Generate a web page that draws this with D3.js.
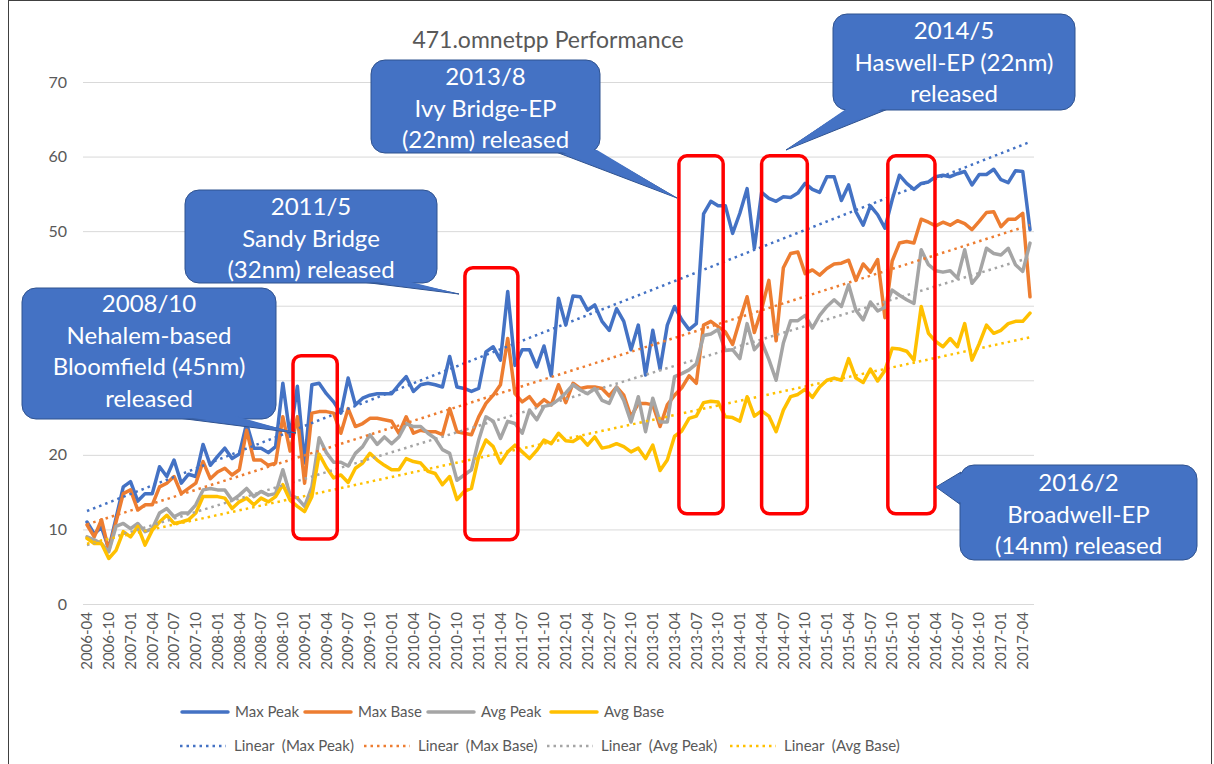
<!DOCTYPE html>
<html>
<head>
<meta charset="utf-8">
<script src="https://cdn.jsdelivr.net/npm/d3@7/dist/d3.min.js"></script>
<style>
  body { margin: 0; background: #fff; }
  text { font-family: Lato, "Open Sans", sans-serif; }
</style>
</head>
<body>
<svg id="chart" width="1214" height="764"></svg>
<script>
// x axis labels, one every 3rd category
var tickLabels = ["2006-04","2006-10","2007-01","2007-04","2007-07","2007-10","2008-01","2008-04","2008-07","2008-10",
  "2009-01","2009-04","2009-07","2009-10","2010-01","2010-04","2010-07","2010-10","2011-01","2011-04",
  "2011-07","2011-10","2012-01","2012-04","2012-07","2012-10","2013-01","2013-04","2013-07","2013-10",
  "2014-01","2014-04","2014-07","2014-10","2015-01","2015-04","2015-07","2015-10","2016-01","2016-04",
  "2016-07","2016-10","2017-01","2017-04"];

var maxPeak = [11.0,9.4,10.3,7.4,11.5,15.7,16.4,13.8,14.8,14.8,
  18.4,17.1,19.3,16.2,17.4,17.1,21.4,18.6,19.8,20.9,
  19.5,20.1,24.2,20.9,20.9,20.3,21.1,29.6,22.5,29.2,
  18.9,29.4,29.6,28.2,27.1,25.6,30.3,26.7,27.6,28.0,
  28.2,28.2,28.2,29.4,30.5,28.5,29.4,29.6,29.4,29.1,
  33.2,29.1,28.9,28.5,28.9,33.8,34.5,32.7,41.9,32.0,
  34.1,34.1,31.8,34.6,30.6,41.0,37.4,41.3,41.2,39.4,
  40.1,37.9,36.7,39.6,37.9,34.1,37.4,30.7,36.7,31.5,
  37.4,39.9,38.1,36.8,37.6,52.3,54.0,53.4,53.4,49.7,
  52.4,55.7,47.7,55.2,54.4,54.0,54.6,54.5,55.1,56.4,
  55.6,55.2,57.3,57.3,54.1,56.2,52.6,50.8,53.4,52.2,
  50.4,54.2,57.5,56.4,55.6,56.4,56.6,57.3,57.5,57.3,
  57.7,58.0,56.2,57.6,57.6,58.3,56.9,56.5,58.1,58.0,
  50.2];

var maxBase = [10.6,9.0,11.3,7.2,11.0,14.8,15.3,12.6,13.3,13.3,
  15.7,16.2,17.1,14.8,15.5,16.2,19.1,16.8,17.7,18.2,
  17.3,18.0,23.3,19.3,19.3,18.6,18.9,25.1,20.5,25.1,
  16.2,25.6,25.8,25.8,25.6,22.9,26.2,23.8,24.2,24.9,
  24.9,24.7,24.5,22.9,25.1,22.9,23.3,23.1,23.1,22.7,
  26.2,23.1,22.9,22.7,25.1,26.9,28.0,29.4,35.6,28.2,
  27.1,27.8,26.5,27.4,26.7,29.4,27.0,29.6,28.9,29.1,
  29.1,28.9,27.9,29.1,28.0,25.1,26.9,26.9,26.7,23.8,
  26.7,28.0,29.0,30.6,29.6,37.4,37.9,37.2,36.5,34.8,
  38.1,41.2,36.4,39.5,43.4,35.3,45.1,47.0,47.2,44.3,
  44.8,44.1,45.0,45.6,45.7,46.1,43.4,45.6,44.5,46.2,
  38.4,46.0,48.4,48.6,48.4,51.6,51.2,50.7,51.2,50.8,
  51.4,51.0,50.2,51.3,52.5,52.6,50.6,51.6,51.6,52.4,
  41.2];

var avgPeak = [9.0,8.6,8.1,7.0,10.4,10.8,10.1,10.8,9.7,10.1,
  12.2,12.8,11.7,12.2,12.2,13.3,15.3,15.5,15.3,15.3,
  13.9,14.6,15.5,14.4,15.1,14.6,14.8,18.0,14.6,14.2,
  13.1,15.7,22.3,20.3,19.0,19.0,18.5,20.2,21.1,22.7,
  21.4,22.4,21.5,22.4,24.2,23.8,23.8,22.9,22.2,20.7,
  20.2,16.6,17.3,18.0,22.0,25.1,24.5,22.2,24.5,24.2,
  22.9,26.0,24.7,26.5,26.7,27.4,28.3,29.4,28.7,28.2,
  28.9,27.3,26.9,29.1,27.3,24.4,27.8,23.1,27.6,24.4,
  24.4,30.5,30.9,31.4,32.2,36.0,36.2,36.8,34.0,34.1,
  32.9,37.6,34.1,35.2,32.8,30.0,35.0,38.0,38.0,38.7,
  37.0,38.7,39.9,40.8,39.9,42.8,39.4,38.1,40.5,39.3,
  39.8,42.1,41.4,40.8,40.3,47.5,45.5,44.7,44.5,44.7,
  43.7,47.5,43.0,44.2,47.7,47.0,46.8,47.7,45.5,44.6,
  48.4];

var avgBase = [8.8,8.1,8.1,6.1,7.2,9.7,9.0,10.4,7.9,9.9,
  11.0,11.9,10.8,11.0,11.3,12.2,14.4,14.4,14.4,14.2,
  12.8,13.7,14.2,13.3,14.2,13.7,14.4,16.0,13.9,13.1,
  12.4,14.4,20.1,18.3,16.9,17.3,16.3,18.2,18.9,20.2,
  19.3,18.6,18.0,18.0,19.5,19.1,18.9,17.8,17.5,16.0,
  17.1,14.0,15.1,15.5,19.8,22.0,21.1,18.9,20.4,21.3,
  20.4,19.5,20.6,22.0,21.5,22.9,21.9,21.8,22.4,21.3,
  22.4,20.9,21.1,21.5,21.1,20.4,20.9,19.5,21.3,17.9,
  19.3,22.5,23.2,24.9,25.2,27.0,27.2,27.1,25.1,25.0,
  24.5,27.8,25.2,25.9,25.2,23.1,26.0,27.8,28.1,28.8,
  27.7,29.1,30.0,30.3,30.0,32.9,30.3,29.7,31.5,29.9,
  31.3,34.3,34.2,33.9,32.7,39.9,36.3,35.2,34.5,35.6,
  34.5,37.6,32.7,34.9,37.4,36.3,36.7,37.6,37.9,37.9,
  39.0];

var seriesNames = ["Max Peak", "Max Base", "Avg Peak", "Avg Base"];
var yTicks = [0, 10, 20, 30, 40, 50, 60, 70];

// highlighted release windows: [first category, last category, bottom value, top value]
var releaseWindows = [[28.4, 34.5, 8.7, 33.3], [52.1, 59.4, 8.6, 45.1], [81.6, 87.7, 12.1, 60.1],
  [93.0, 99.3, 12.1, 60.1], [110.4, 116.9, 12.1, 60.1]];

var calloutTexts = [
  ["2008/10", "Nehalem-based", "Bloomfield (45nm)", "released"],
  ["2011/5", "Sandy Bridge", "(32nm) released"],
  ["2013/8", "Ivy Bridge-EP", "(22nm) released"],
  ["2014/5", "Haswell-EP (22nm)", "released"],
  ["2016/2", "Broadwell-EP", "(14nm) released"]
];

(function() {
  var colors = ["#4472C4", "#ED7D31", "#A5A5A5", "#FFC000"];
  var allSeries = [maxPeak, maxBase, avgPeak, avgBase];
  var n = maxPeak.length;
  var plot = { left: 83, right: 1034, top: 82, bottom: 604 };

  var svg = d3.select("#chart");
  svg.append("rect").attr("x", 8.5).attr("y", 0.5).attr("width", 1203).attr("height", 780)
     .style("fill", "#fff").style("stroke", "#404040").style("stroke-width", 1);

  var x = d3.scaleLinear().domain([0, n - 1]).range([87, 1030]);
  var y = d3.scaleLinear().domain([0, 70]).range([plot.bottom, plot.top]);

  /*Gridlines*/
  svg.selectAll(".grid").data(yTicks).enter().append("line")
     .attr("x1", plot.left).attr("x2", plot.right)
     .attr("y1", function(d){ return y(d) + 0.5; }).attr("y2", function(d){ return y(d) + 0.5; })
     .style("stroke", "#D9D9D9").style("stroke-width", 1);

  svg.selectAll(".ylab").data(yTicks).enter().append("text")
     .attr("x", 67).attr("y", function(d){ return y(d); }).attr("dy", "0.35em")
     .style("text-anchor", "end").style("font-size", "16px").style("fill", "#595959")
     .text(function(d){ return d; });

  svg.selectAll(".xlab").data(tickLabels).enter().append("text")
     .attr("transform", function(d, i){ return "translate(" + x(i * 3) + ",612) rotate(-90)"; })
     .attr("dy", "0.35em")
     .style("text-anchor", "end").style("font-size", "15px").style("fill", "#595959")
     .text(function(d){ return d; });

  /*Title*/
  svg.append("text").attr("x", 548).attr("y", 48).style("text-anchor", "middle")
     .style("font-size", "23px").style("fill", "#595959").text("471.omnetpp Performance");

  /*Series*/
  var line = d3.line().x(function(d, i){ return x(i); }).y(function(d){ return y(d); });
  allSeries.forEach(function(vals, s){
    svg.append("path").datum(vals).attr("d", line)
       .style("fill", "none").style("stroke", colors[s]).style("stroke-width", 3.5)
       .style("stroke-linejoin", "round").style("stroke-linecap", "round");
  });

  /*Linear trendlines*/
  allSeries.forEach(function(vals, s){
    var xs = d3.range(n);
    var mx = d3.mean(xs), my = d3.mean(vals);
    var b = d3.sum(xs, function(k){ return (k - mx) * (vals[k] - my); }) / d3.sum(xs, function(k){ return (k - mx) * (k - mx); });
    var a = my - b * mx;
    svg.append("line")
       .attr("x1", x(0)).attr("y1", y(a)).attr("x2", x(n - 1)).attr("y2", y(a + b * (n - 1)))
       .style("stroke", colors[s]).style("stroke-width", 2.5).style("stroke-dasharray", "2.5,4");
  });

  /*Red boxes*/
  svg.selectAll(".win").data(releaseWindows).enter().append("rect")
     .attr("x", function(d){ return x(d[0]); }).attr("y", function(d){ return y(d[3]); })
     .attr("width", function(d){ return x(d[1]) - x(d[0]); })
     .attr("height", function(d){ return y(d[2]) - y(d[3]); })
     .attr("rx", 8).style("fill", "none").style("stroke", "#FF0000").style("stroke-width", 3.5);

  /*Callouts*/
  var boxes = [
    { x: 22, y: 288, w: 254, h: 131, tip: [296, 433], base: [[178, 418], [236, 418]], cy: 304 },
    { x: 185, y: 190, w: 252, h: 93, tip: [459, 294], base: [[362, 282], [404, 282]], cy: 207 },
    { x: 371, y: 60, w: 229, h: 93, tip: [677, 198], base: [[556, 152], [598, 152]], cy: 77 },
    { x: 833, y: 14, w: 242, h: 96, tip: [786, 150], base: [[848, 109], [888, 109]], cy: 31 },
    { x: 960, y: 465, w: 237, h: 95, tip: [936, 487], base: [[961, 472], [961, 505]], cy: 483 }
  ];
  boxes.forEach(function(b, k){
    var g = svg.append("g");
    var wedge = [b.base[0], b.tip, b.base[1]];
    g.append("polygon").attr("points", wedge.map(function(p){ return p.join(","); }).join(" "))
     .style("fill", "#4472C4").style("stroke", "#2F528F").style("stroke-width", 1);
    g.append("rect").attr("x", b.x).attr("y", b.y).attr("width", b.w).attr("height", b.h).attr("rx", 14)
     .style("fill", "#4472C4").style("stroke", "#2F528F").style("stroke-width", 1);
    var vert = b.base[0][0] === b.base[1][0];
    var inner = [[b.base[0][0] + (vert ? 2 : 1), b.base[0][1] + (vert ? 1 : -2)],
                 [b.tip[0], b.tip[1]],
                 [b.base[1][0] + (vert ? 2 : -1), b.base[1][1] + (vert ? -1 : -2)]];
    g.append("polygon").attr("points", inner.map(function(p){ return p.join(","); }).join(" "))
     .style("fill", "#4472C4").style("stroke", "none");
    g.selectAll("text").data(calloutTexts[k]).enter().append("text")
     .attr("x", b.x + b.w / 2).attr("y", function(d, i){ return b.cy + i * 31.5; }).attr("dy", "0.35em")
     .style("text-anchor", "middle").style("font-size", "24px").style("fill", "#fff")
     .text(function(d){ return d; });
  });

  /*Legend*/
  var row1 = [182, 305, 428, 551];
  var row2 = [180, 364, 547, 730];
  seriesNames.forEach(function(name, s){
    svg.append("line").attr("x1", row1[s]).attr("x2", row1[s] + 46).attr("y1", 712).attr("y2", 712)
       .style("stroke", colors[s]).style("stroke-width", 3.5).style("stroke-linecap", "round");
    svg.append("text").attr("x", row1[s] + 53).attr("y", 712).attr("dy", "0.35em")
       .style("font-size", "15px").style("fill", "#595959").text(name);
    svg.append("line").attr("x1", row2[s]).attr("x2", row2[s] + 46).attr("y1", 746).attr("y2", 746)
       .style("stroke", colors[s]).style("stroke-width", 2.5).style("stroke-dasharray", "2.5,4");
    svg.append("text").attr("x", row2[s] + 54).attr("y", 746).attr("dy", "0.35em")
       .style("font-size", "15px").style("fill", "#595959").style("white-space", "pre")
       .text("Linear  (" + name + ")");
  });
})();
</script>
</body>
</html>
